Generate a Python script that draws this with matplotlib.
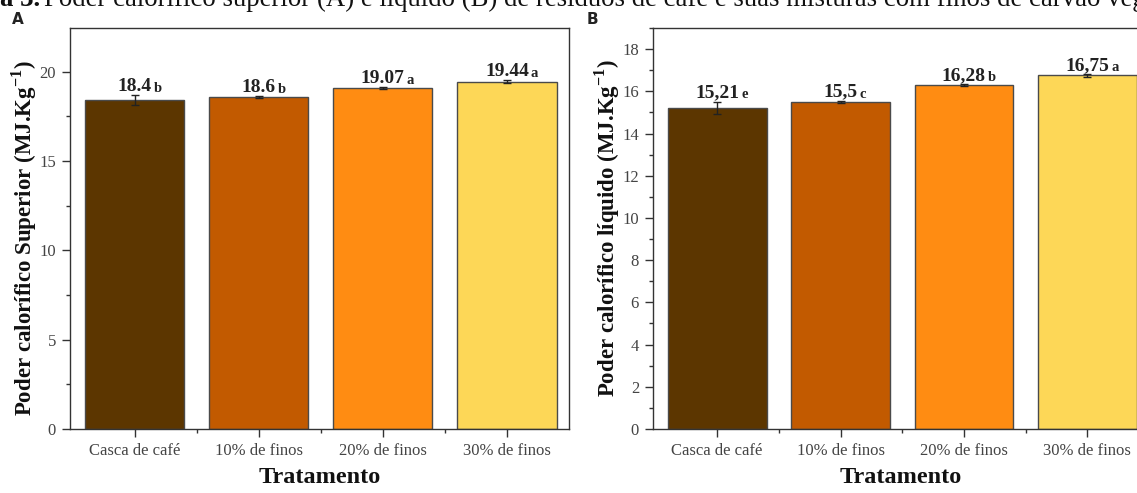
import matplotlib
matplotlib.use("Agg")
import matplotlib.pyplot as plt
from matplotlib.ticker import MultipleLocator, FixedLocator

# data
tratamentos = ["Casca de café", "10% de finos", "20% de finos", "30% de finos"]
pcs = [18.4, 18.6, 19.07, 19.44]
pcs_err = [0.28, 0.05, 0.06, 0.08]
pcs_txt = ["18.4", "18.6", "19.07", "19.44"]
pcs_let = ["b", "b", "a", "a"]
pci = [15.21, 15.5, 16.28, 16.75]
pci_err = [0.3, 0.05, 0.05, 0.07]
pci_txt = ["15,21", "15,5", "16,28", "16,75"]
pci_let = ["e", "c", "b", "a"]
cores = ["#5c3600", "#c25a00", "#ff8c12", "#fdd757"]

plt.rcParams['font.family'] = ['Liberation Serif', 'DejaVu Serif']
plt.rcParams['mathtext.fontset'] = 'custom'
plt.rcParams['mathtext.rm'] = 'Liberation Serif'
plt.rcParams['mathtext.bf'] = 'Liberation Serif:bold'

fig = plt.figure(figsize=(11.37, 4.93), dpi=100)
W, H = 1137.0, 493.0

axA = fig.add_axes([70 / W, 64 / H, 499 / W, 401 / H])
axB = fig.add_axes([653 / W, 64 / H, 496 / W, 401 / H])


def painel(ax, vals, errs, txts, lets, ylim, major, minor, ylabel):
    x = list(range(len(vals)))
    ax.bar(x, vals, width=0.8, color=cores, edgecolor="#4a4a4a", linewidth=1, zorder=2)
    ax.errorbar(x, vals, yerr=errs, fmt="none", ecolor="#222222", elinewidth=1,
                capsize=3, capthick=1, zorder=3)
    for xi, v, e, t, l in zip(x, vals, errs, txts, lets):
        num = ax.annotate(t, xy=(xi, v + e), xytext=(0, 3), textcoords="offset points",
                          ha="center", va="baseline", fontsize=14, fontweight="bold",
                          color="#222222")
        ax.annotate(l, xy=(1, 0), xycoords=num, xytext=(1.5, 0), textcoords="offset points",
                    ha="left", va="bottom", fontsize=10.5, fontweight="bold", color="#222222")
    ax.set_xlim(-0.52, 3.5)
    ax.set_ylim(*ylim)
    ax.set_xticks(x)
    ax.set_xticklabels(tratamentos)
    ax.xaxis.set_minor_locator(FixedLocator([0.5, 1.5, 2.5]))
    ax.yaxis.set_major_locator(MultipleLocator(major))
    ax.yaxis.set_minor_locator(MultipleLocator(minor))
    ax.tick_params(axis="both", which="major", direction="out", length=6, width=1,
                   color="#333333", labelsize=12, labelcolor="#444444", pad=4)
    ax.tick_params(axis="both", which="minor", direction="out", length=3, width=1,
                   color="#333333")
    for s in ax.spines.values():
        s.set_color("#333333")
        s.set_linewidth(1)
    ax.set_xlabel("Tratamento", fontsize=17.5, fontweight="bold", color="#111111")
    ax.xaxis.set_label_coords(0.5, -0.095)
    ax.set_ylabel(ylabel, fontsize=16.5, fontweight="bold", color="#111111")


painel(axA, pcs, pcs_err, pcs_txt, pcs_let, (0, 22.45), 5, 2.5,
       "Poder calorífico Superior (MJ.Kg$^{\\mathbf{-1}}$)")
axA.yaxis.set_label_coords(-0.062, 0.475)
painel(axB, pci, pci_err, pci_txt, pci_let, (0, 19.0), 2, 1,
       "Poder calorífico líquido (MJ.Kg$^{\\mathbf{-1}}$)")
axB.yaxis.set_label_coords(-0.062, 0.5)

fig.text(18 / W, 1 - 20 / H, "A", family="DejaVu Sans", fontweight="bold", fontsize=11,
         ha="center", va="center", color="#222222")
fig.text(592 / W, 1 - 20 / H, "B", family="DejaVu Sans", fontweight="bold", fontsize=11,
         ha="center", va="center", color="#222222")

# legenda cortada no topo
fig.text(40 / W, 1 - 6 / H, "Figura 3.", fontsize=19.3, fontweight="bold", ha="right",
         va="baseline", color="#111111")
fig.text(44 / W, 1 - 6 / H,
         "Poder calorífico superior (A) e líquido (B) de resíduos de café e suas misturas "
         "com finos de carvão vegetal", fontsize=19.3, ha="left", va="baseline", color="#111111")

fig.savefig("out.png", dpi=100)
